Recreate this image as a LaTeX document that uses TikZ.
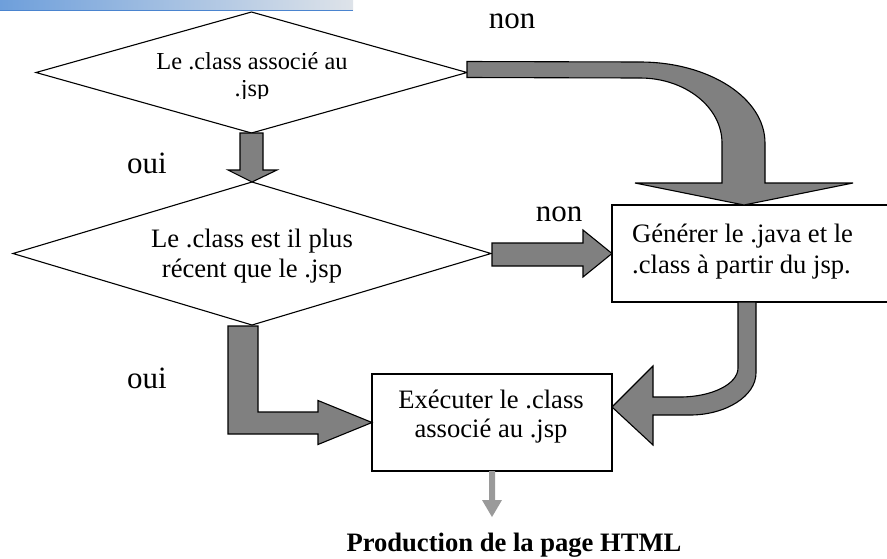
\documentclass[tikz,border=0pt]{standalone}
\usepackage{fontspec}
\setmainfont{Liberation Serif}
\usetikzlibrary{shapes.geometric,calc}
\definecolor{arrowgray}{HTML}{808080}
\definecolor{lightarrow}{HTML}{9A9A9A}
\definecolor{bannerblue}{HTML}{6E9FDB}
\definecolor{bannergray}{HTML}{DEE3E9}
\definecolor{bannerline}{HTML}{4A84CF}
\begin{document}
\begin{tikzpicture}[x=1pt,y=-1pt,
  decision/.style={diamond, draw=black, line width=1.1pt, inner sep=0pt, outer sep=0pt},
  procbox/.style={rectangle, draw=black, line width=1.5pt, inner sep=0pt, outer sep=0pt},
  txt/.style={inner sep=0pt, anchor=base, font=\fontsize{26.6}{30}\selectfont},
  lefttxt/.style={txt, anchor=base west},
  smalltxt/.style={inner sep=0pt, anchor=base, font=\fontsize{24.4}{28}\selectfont},
  lbl/.style={inner sep=0pt, anchor=base, font=\fontsize{31}{34}\selectfont},
  boldtxt/.style={inner sep=0pt, anchor=base, font=\fontsize{26.6}{30}\selectfont\bfseries},
  blockarrow/.style={fill=arrowgray, draw=black, line width=1.1pt, line join=miter, miter limit=10},
  thinarrow/.style={fill=lightarrow, draw=none}]
\clip (0,0) rectangle (887,558);
\fill[white] (0,0) rectangle (887,558);

% banner
\shade[left color=bannerblue, right color=bannergray] (0,0) rectangle (353,10);
\draw[bannerline, line width=1.5pt] (0,10.5) -- (353,10.5);

% shapes
\node[decision, minimum width=431pt, minimum height=121pt] (d1) at (251.5,72.5) {};
\node[decision, minimum width=478pt, minimum height=143pt] (d2) at (252,253.5) {};
\node[procbox, minimum width=300pt, minimum height=97pt, anchor=north west] (gen) at (612,205) {};
\node[procbox, minimum width=240pt, minimum height=97pt, anchor=north west] (exec) at (372,374) {};

% texts
\node[smalltxt] (t1a) at (252,69) {Le .class associé au};
\begin{scope}
  \clip (150,80) rectangle (350,98.5);
  \node[smalltxt] (t1b) at (252,96.5) {.jsp};
\end{scope}
\node[txt] (t2a) at (252,247.5) {Le .class est il plus};
\node[txt] (t2b) at (252,277.5) {récent que le .jsp};
\node[lefttxt] (t3a) at (632,242) {Générer le .java et le};
\node[lefttxt] (t3b) at (632,273) {.class à partir du jsp.};
\node[txt] (t4a) at (491,408) {Exécuter le .class};
\node[txt] (t4b) at (491,437) {associé au .jsp};
\node[lbl] (oui1) at (147,173) {oui};
\node[lbl] (oui2) at (147,388.5) {oui};
\node[lbl] (non1) at (512,28.5) {non};
\node[lbl] (non2) at (559,221) {non};
\node[boldtxt] (prod) at (514,551) {Production de la page HTML};

% block arrows
% d1 -> gen (curved, non)
\draw[blockarrow] ($(d1.east)+(0,-11)$) -- (640,62)
  .. controls (709,62) and (765,98) .. (765,143) -- (765,183) -- (853,183)
  -- ($(gen.north west)+(132,0)$) -- (635,183) -- (722,183) -- (722,143)
  .. controls (722,107) and (685,78) .. (640,78) -- ($(d1.east)+(0,5)$) -- cycle;
% d1 -> d2 (oui)
\draw[blockarrow] ($(d1.south)+(-11.5,0)$) -- ++(23,0) -- ++(0,37) -- ++(14,0)
  -- (d2.north) -- ++(-24,-12) -- ++(12,0) -- cycle;
% d2 -> gen (non)
\draw[blockarrow] ($(d2.east)+(1,-10.5)$) -- ++(91,0) -- ++(0,-13) -- (gen.west)
  -- ++(-29,23.5) -- ++(0,-11) -- ++(-91,0) -- cycle;
% d2 -> exec (oui)
\draw[blockarrow] ($(d2.south)+(-24,1)$) -- ++(30,0) -- (258,412) -- (318,412)
  -- (318,400.5) -- (exec.west) -- (318,444.5) -- (318,434) -- (228,434) -- cycle;
% gen -> exec (curved)
\draw[blockarrow] ($(gen.south west)+(126,0)$) -- ++(18,0) -- (756,373)
  .. controls (756,396) and (726,415) .. (690,415) -- (653,415) -- (653,445)
  -- ($(exec.north east)+(0,33)$) -- (653,366) -- (653,397) -- (680,397)
  .. controls (712,397) and (738,384) .. (738,368) -- cycle;
% exec -> production
\fill[thinarrow] ($(exec.south)+(-3,0)$) -- ++(6,0) -- ++(0,29) -- ++(7,0)
  -- (492,517) -- (482,500) -- (489,500) -- cycle;
\end{tikzpicture}
\end{document}
